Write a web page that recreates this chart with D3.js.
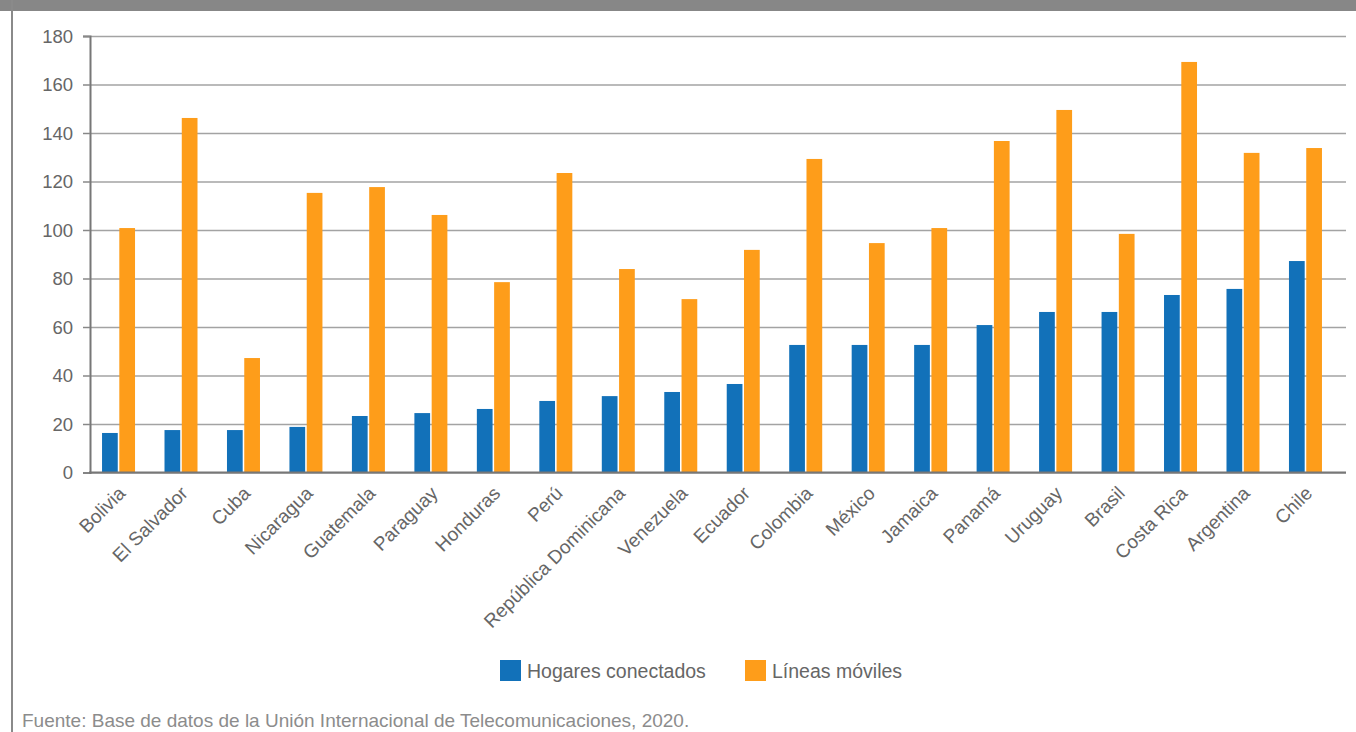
<!DOCTYPE html>
<html>
<head>
<meta charset="utf-8">
<script src="https://cdn.jsdelivr.net/npm/d3@7"></script>
<style>
  body { margin: 0; background: #fff; }
  svg { display: block; font-family: "Liberation Sans", Arial, Helvetica, sans-serif; }
</style>
</head>
<body>
<div class="chart"></div>
<script>
let countries = ['Bolivia', 'El Salvador', 'Cuba', 'Nicaragua', 'Guatemala', 'Paraguay', 'Honduras', 'Perú',
  'República Dominicana', 'Venezuela', 'Ecuador', 'Colombia', 'México', 'Jamaica', 'Panamá', 'Uruguay',
  'Brasil', 'Costa Rica', 'Argentina', 'Chile'];
let hogares = [16.3, 17.5, 17.5, 18.8, 23.3, 24.5, 26.2, 29.5, 31.5, 33.2, 36.5, 52.6, 52.6, 52.6, 60.8, 66.2,
  66.2, 73.2, 75.7, 87.2];
let lineas = [100.8, 146.2, 47.2, 115.3, 117.7, 106.2, 78.5, 123.5, 83.9, 71.5, 91.8, 129.3, 94.6, 100.8, 136.7,
  149.5, 98.4, 169.3, 131.8, 133.8];
let seriesNames = ['Hogares conectados', 'Líneas móviles'];
let yTicks = [0, 20, 40, 60, 80, 100, 120, 140, 160, 180];
let source = 'Fuente: Base de datos de la Unión Internacional de Telecomunicaciones, 2020.';

let w = 1356, h = 732;
let colors = ['#1271b9', '#fe9d1a'];
let plotLeft = 90, plotRight = 1346, plotTop = 36, plotBottom = 472.5;

let svg = d3.select('.chart').append('svg').attr('width', w).attr('height', h);

/* ==== FRAME ==== */
svg.append('rect').attr('x', 0).attr('y', 0).attr('width', w).attr('height', 11).attr('fill', '#878787');
svg.append('line').attr('x1', 12).attr('x2', 12).attr('y1', 0).attr('y2', h)
  .attr('stroke', '#8a8a8a').attr('stroke-width', 2);

/* ==== SCALES ==== */
let xScale = d3.scaleBand().domain(countries).range([87.3, 1336.7]);
let inner = d3.scaleBand().domain(seriesNames).range([xScale.bandwidth() / 2 - 16.5, xScale.bandwidth() / 2 + 16.5])
  .paddingInner(0.09);
let yScale = d3.scaleLinear().domain([0, 180]).range([plotBottom, plotTop]);

/* ==== GRID ==== */
let grid = d3.axisLeft(yScale).tickValues(yTicks).tickSize(-(plotRight - plotLeft)).tickFormat('');
svg.append('g').attr('class', 'grid').attr('transform', 'translate(' + plotLeft + ',0)').call(grid)
  .call(g => g.select('.domain').remove())
  .selectAll('line').attr('stroke', '#a3a3a3').attr('stroke-width', 1.5);

/* ==== BARS ==== */
let rows = countries.map((c, i) => ({ country: c, values: [hogares[i], lineas[i]] }));
let groups = svg.append('g').selectAll('g').data(rows).join('g')
  .attr('transform', d => 'translate(' + xScale(d.country) + ',0)');
groups.selectAll('rect').data(d => d.values.map((v, j) => ({ key: seriesNames[j], value: v, j: j })))
  .join('rect')
  .attr('x', d => inner(d.key))
  .attr('width', inner.bandwidth())
  .attr('y', d => yScale(d.value))
  .attr('height', d => yScale(0) - yScale(d.value))
  .attr('fill', d => colors[d.j]);

/* ==== AXES ==== */
let yAxis = d3.axisLeft(yScale).tickValues(yTicks).tickSize(7).tickPadding(10);
svg.append('g').attr('class', 'axis y').attr('transform', 'translate(' + plotLeft + ',0)').call(yAxis)
  .call(g => g.select('.domain').attr('stroke', '#777').attr('stroke-width', 2))
  .call(g => g.selectAll('.tick line').attr('stroke', '#888').attr('stroke-width', 1.5))
  .call(g => g.selectAll('text').attr('fill', '#666').style('font-size', '18.5px').attr('dy', '0.35em'));

svg.append('line').attr('x1', plotLeft - 1).attr('x2', plotRight).attr('y1', plotBottom).attr('y2', plotBottom)
  .attr('stroke', '#777').attr('stroke-width', 2);

svg.append('g').selectAll('text').data(countries).join('text')
  .attr('transform', d => 'translate(' + (xScale(d) + xScale.bandwidth() / 2 + 8) + ',' + (plotBottom + 22) + ') rotate(-45)')
  .attr('text-anchor', 'end')
  .attr('fill', '#666')
  .style('font-size', '19px')
  .text(d => d);

/* ==== LEGEND ==== */
let legendX = [500, 745];
let legend = svg.append('g').selectAll('g').data(seriesNames).join('g')
  .attr('transform', (d, i) => 'translate(' + legendX[i] + ',660)');
legend.append('rect').attr('width', 21).attr('height', 21).attr('fill', (d, i) => colors[i]);
legend.append('text').attr('x', 27).attr('y', 17.5).attr('fill', '#666').style('font-size', '19.5px').text(d => d);

/* ==== SOURCE ==== */
svg.append('text').attr('x', 22).attr('y', 727).attr('fill', '#8c8c8c').style('font-size', '19px').text(source);
</script>
</body>
</html>
